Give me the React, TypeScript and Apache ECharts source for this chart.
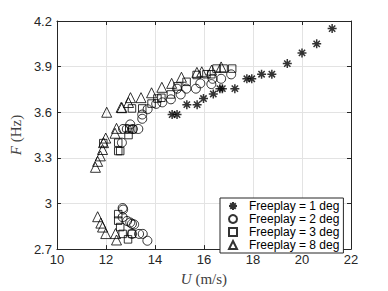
import React, { useEffect, useRef } from "react";
import * as echarts from "echarts";

const seriesNames = ["Freeplay = 1 deg", "Freeplay = 2 deg", "Freeplay = 3 deg", "Freeplay = 8 deg"];

const deg1: number[][] = [
  [14.7, 3.585], [14.9, 3.585], [15.3, 3.65], [15.72, 3.65], [15.98, 3.69], [16.38, 3.72],
  [16.65, 3.755], [16.75, 3.755], [17.26, 3.755], [17.75, 3.82], [17.95, 3.82], [18.35, 3.85],
  [18.77, 3.85], [19.4, 3.92], [20.0, 3.99], [20.6, 4.05], [21.23, 4.15],
];

const deg2: number[][] = [
  [12.65, 3.4], [12.7, 3.49], [12.85, 3.49], [12.99, 3.52], [13.1, 3.49], [13.32, 3.49],
  [13.48, 3.557], [13.48, 3.585], [13.7, 3.62], [14.05, 3.655], [14.3, 3.665], [14.65, 3.685],
  [14.9, 3.755], [15.05, 3.717], [15.28, 3.755], [15.67, 3.755], [15.85, 3.79], [16.3, 3.785],
  [16.35, 3.82], [16.7, 3.82], [17.11, 3.849],
  [12.68, 2.97], [12.7, 2.96], [12.68, 2.91], [12.86, 2.885], [12.99, 2.875], [13.06, 2.866],
  [13.15, 2.862], [13.06, 2.8], [13.35, 2.8], [13.5, 2.8], [13.69, 2.755],
];

const deg3: number[][] = [
  [11.89, 3.397], [12.5, 3.4], [12.5, 3.345], [12.58, 3.345], [12.92, 3.45], [13.08, 3.487],
  [12.95, 3.49], [13.06, 3.625], [13.48, 3.625], [13.86, 3.657], [14.1, 3.69], [14.26, 3.695],
  [14.65, 3.717], [14.92, 3.77], [15.29, 3.8], [15.7, 3.845], [16.1, 3.85], [16.3, 3.85],
  [16.51, 3.887], [16.8, 3.887], [17.15, 3.887],
  [12.5, 2.93], [12.5, 2.887], [12.58, 2.845], [12.68, 2.8], [12.9, 2.764], [13.06, 2.8],
];

const deg8: number[][] = [
  [11.57, 3.238], [11.66, 3.277], [11.77, 3.313], [11.86, 3.355], [11.9, 3.4], [11.99, 3.43],
  [12.03, 3.6], [12.37, 3.462], [12.43, 3.494], [12.62, 3.632], [12.65, 3.63], [12.92, 3.664],
  [13.0, 3.696], [13.43, 3.696], [13.86, 3.728], [14.28, 3.764], [14.68, 3.79], [15.08, 3.83],
  [15.71, 3.862], [15.91, 3.866], [16.31, 3.877], [16.7, 3.898],
  [11.66, 2.913], [11.79, 2.871], [11.86, 2.845], [11.99, 2.802], [12.39, 2.802], [12.43, 2.76],
];

const xTicks = { min: 10, max: 22, interval: 2 };
const yTicks = { min: 2.7, max: 4.2, interval: 0.3 };

const asterisk = "path://M10 0L10 20M0 10L20 10M3 3L17 17M3 17L17 3";

export default function App() {
  const ref = useRef<HTMLDivElement>(null);
  useEffect(() => {
    if (!ref.current) return;
    const chart = echarts.init(ref.current, null, { renderer: "svg" });
    const axisColor = "#262626";
    const nameColor = "#404040";
    const labelFmt = (v: number) => String(Number(v.toFixed(1)));
    const mk = (name: string, data: number[][], symbol: string, size: number, bw: number) => ({
      name,
      type: "scatter",
      data,
      symbol,
      symbolSize: size,
      itemStyle: { color: "rgba(0,0,0,0)", borderColor: "#000", borderWidth: bw },
      emphasis: { disabled: true },
    });
    const nameStyle = {
      fontFamily: "Liberation Serif",
      fontSize: 15,
      color: nameColor,
      rich: { i: { fontStyle: "italic", fontFamily: "Liberation Serif", fontSize: 15, color: nameColor } },
    };
    chart.setOption({
      animation: false,
      backgroundColor: "#fff",
      grid: { left: 50, right: 37, top: 21, bottom: 35 },
      legend: {
        orient: "vertical",
        left: 220,
        top: 198,
        padding: [2, 4, 2, 8],
        itemGap: 1,
        itemWidth: 8,
        itemHeight: 8,
        borderColor: "#262626",
        borderWidth: 1,
        backgroundColor: "#fff",
        textStyle: { fontFamily: "Liberation Sans", fontSize: 12, color: "#000", lineHeight: 11, padding: [0, 0, 0, 7] },
        data: seriesNames,
      },
      xAxis: [
        {
          type: "value",
          ...xTicks,
          position: "bottom",
          name: "{i|U} (m/s)",
          nameLocation: "middle",
          nameGap: 20,
          nameTextStyle: nameStyle,
          axisLine: { show: true, lineStyle: { color: axisColor, width: 1 } },
          axisTick: { show: true, inside: true, length: 4, lineStyle: { color: axisColor } },
          axisLabel: { fontFamily: "Liberation Sans", fontSize: 13, color: axisColor, margin: 4 },
          splitLine: { show: true, lineStyle: { color: "#e3e3e3", width: 1 } },
        },
        {
          type: "value",
          ...xTicks,
          position: "top",
          axisLine: { show: true, lineStyle: { color: axisColor, width: 1 } },
          axisTick: { show: true, inside: true, length: 4, lineStyle: { color: axisColor } },
          axisLabel: { show: false },
          splitLine: { show: false },
        },
      ],
      yAxis: [
        {
          type: "value",
          ...yTicks,
          position: "left",
          name: "{i|F} (Hz)",
          nameLocation: "middle",
          nameGap: 33,
          nameTextStyle: nameStyle,
          axisLine: { show: true, lineStyle: { color: axisColor, width: 1 } },
          axisTick: { show: true, inside: true, length: 4, lineStyle: { color: axisColor } },
          axisLabel: { fontFamily: "Liberation Sans", fontSize: 13, color: axisColor, margin: 5, formatter: labelFmt },
          splitLine: { show: true, lineStyle: { color: "#e3e3e3", width: 1 } },
        },
        {
          type: "value",
          ...yTicks,
          position: "right",
          axisLine: { show: true, lineStyle: { color: axisColor, width: 1 } },
          axisTick: { show: true, inside: true, length: 4, lineStyle: { color: axisColor } },
          axisLabel: { show: false },
          splitLine: { show: false },
        },
      ],
      series: [
        mk(seriesNames[0], deg1, asterisk, 9, 1.5),
        mk(seriesNames[1], deg2, "circle", 9, 1),
        mk(seriesNames[2], deg3, "rect", 7.5, 1),
        mk(seriesNames[3], deg8, "triangle", 10, 1),
      ],
    });
    return () => chart.dispose();
  }, []);
  return <div ref={ref} style={{ position: "absolute", left: 0, top: 0, width: 388, height: 291 }} />;
}
